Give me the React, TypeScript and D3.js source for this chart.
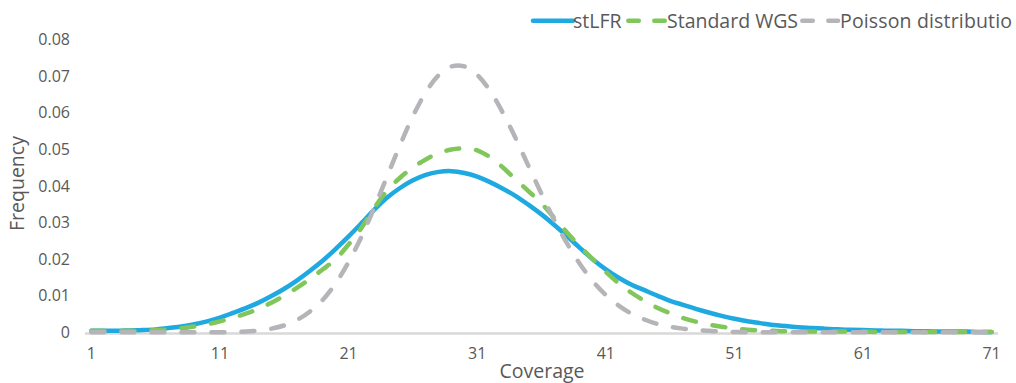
import React from 'react';
import * as d3 from 'd3';

// coverage categories 1..71
const coverage = d3.range(1, 72);
const xTickLabels = [1, 11, 21, 31, 41, 51, 61, 71];
const yTicks = [0, 0.01, 0.02, 0.03, 0.04, 0.05, 0.06, 0.07, 0.08];

const stLFR = [
  0.0004, 0.0004, 0.0004, 0.0005, 0.0006, 0.0008, 0.0012, 0.0016, 0.0022, 0.0030,
  0.0040, 0.0053, 0.0066, 0.0081, 0.0099, 0.0119, 0.0142, 0.0168, 0.0196, 0.0228,
  0.0262, 0.0298, 0.0335, 0.0368, 0.0394, 0.0415, 0.0430, 0.0438, 0.0440, 0.0435,
  0.0425, 0.0410, 0.0392, 0.0372, 0.0348, 0.0322, 0.0293, 0.0262, 0.0230, 0.0199,
  0.0172, 0.0149, 0.0130, 0.0115, 0.0100, 0.0086, 0.0075, 0.0064, 0.0054, 0.0045,
  0.0037, 0.0030, 0.0025, 0.0020, 0.0017, 0.0014, 0.0012, 0.0010, 0.0008, 0.0007,
  0.0006, 0.0005, 0.0004, 0.0004, 0.0003, 0.0003, 0.0002, 0.0002, 0.0002, 0.0001, 0.0001,
];

const standardWGS = [
  0.0004, 0.0004, 0.0004, 0.0004, 0.0005, 0.0006, 0.0008, 0.0011, 0.0016, 0.0022,
  0.0030, 0.0040, 0.0051, 0.0064, 0.0081, 0.0100, 0.0122, 0.0146, 0.0172, 0.0200,
  0.0240, 0.0285, 0.0340, 0.0387, 0.0422, 0.0450, 0.0472, 0.0489, 0.0499, 0.0502,
  0.0497, 0.0478, 0.0450, 0.0417, 0.0385, 0.0352, 0.0312, 0.0272, 0.0234, 0.0199,
  0.0165, 0.0134, 0.0108, 0.0086, 0.0067, 0.0052, 0.0039, 0.0029, 0.0021, 0.0015,
  0.0011, 0.0007, 0.0005, 0.0004, 0.0003, 0.0003, 0.0002, 0.0002, 0.0002, 0.0002,
  0.0002, 0.0001, 0.0001, 0.0001, 0.0001, 0.0001, 0.0001, 0.0001, 0.0001, 0.0001, 0.0001,
];

const poisson = [
  0, 0, 0, 0, 0, 0, 0, 0, 0, 0,
  0, 0.0001, 0.0002, 0.0005, 0.0010, 0.0019, 0.0034, 0.0057, 0.0089, 0.0134,
  0.0192, 0.0261, 0.0341, 0.0426, 0.0511, 0.0590, 0.0655, 0.0702, 0.0726, 0.0726,
  0.0703, 0.0659, 0.0599, 0.0529, 0.0453, 0.0378, 0.0306, 0.0242, 0.0186, 0.0139,
  0.0102, 0.0073, 0.0051, 0.0035, 0.0023, 0.0015, 0.0010, 0.0006, 0.0004, 0.0002,
  0.0001, 0, 0, 0, 0, 0, 0, 0, 0, 0,
  0, 0, 0, 0, 0, 0, 0, 0, 0, 0, 0,
];

// legend text as it shows in the chart (the last one is cut by the chart edge)
const seriesNames = ['stLFR', 'Standard WGS', 'Poisson distributio'];
const seriesColors = ['#1fa9e1', '#80c65a', '#b5b5b9'];

const W = 1016;
const H = 383;
const FONT = '"Open Sans", sans-serif';
const TEXT = '#595959';

const App = () => {
  const x = d3.scalePoint<number>().domain(coverage).range([85, 998]).padding(0.5);
  const y = d3.scaleLinear().domain([0, 0.08]).range([332.3, 39.3]);

  const line = d3
    .line<number>()
    .x((_, i) => x(coverage[i]) as number)
    .y((d) => y(d))
    .curve(d3.curveCatmullRom.alpha(0.5));

  const series = [stLFR, standardWGS, poisson];
  const dashes = [undefined, '13 17', '13 17'];

  // legend samples
  const legend = [
    { x0: 533, x1: 573, tx: 573, len: undefined },
    { x0: 628.3, x1: 664.8, tx: 667, len: undefined },
    { x0: 802.3, x1: 838, tx: 840, len: 172 },
  ];

  return (
    <svg width={W} height={H} style={{ position: 'absolute', left: 0, top: 0 }} fontFamily={FONT}>
      <rect width={W} height={H} fill="#fff" />

      {/* y tick labels */}
      {yTicks.map((t) => (
        <text key={t} x={70} y={y(t) + 5.7} textAnchor="end" fontSize={16} fill={TEXT}>
          {t === 0 ? '0' : t.toFixed(2)}
        </text>
      ))}

      {/* x axis line */}
      <line x1={85} x2={998} y1={333.6} y2={333.6} stroke="#d9d9d9" strokeWidth={2.5} />

      {/* x tick labels */}
      {xTickLabels.map((c) => (
        <text key={c} x={x(c)} y={358.5} textAnchor="middle" fontSize={16} fill={TEXT}>
          {c}
        </text>
      ))}

      {/* series */}
      {series.map((s, i) => (
        <path
          key={seriesNames[i]}
          d={line(s) as string}
          fill="none"
          stroke={seriesColors[i]}
          strokeWidth={4.5}
          strokeLinecap="round"
          strokeLinejoin="round"
          strokeDasharray={dashes[i]}
        />
      ))}

      {/* axis titles */}
      <text x={542} y={378} textAnchor="middle" fontSize={19.5} fill={TEXT}>
        Coverage
      </text>
      <text
        transform="translate(24,183.5) rotate(-90)"
        textAnchor="middle"
        fontSize={19.5}
        fill={TEXT}
      >
        Frequency
      </text>

      {/* legend */}
      {legend.map((l, i) => (
        <g key={seriesNames[i]}>
          <line
            x1={l.x0}
            x2={l.x1}
            y1={20.7}
            y2={20.7}
            stroke={seriesColors[i]}
            strokeWidth={4.5}
            strokeLinecap="round"
            strokeDasharray={i === 0 ? undefined : '10.5 15.5'}
          />
          <text x={l.tx} y={27.8} fontSize={19.5} fill={TEXT} textLength={l.len}>
            {seriesNames[i]}
          </text>
        </g>
      ))}
    </svg>
  );
};

export default App;
